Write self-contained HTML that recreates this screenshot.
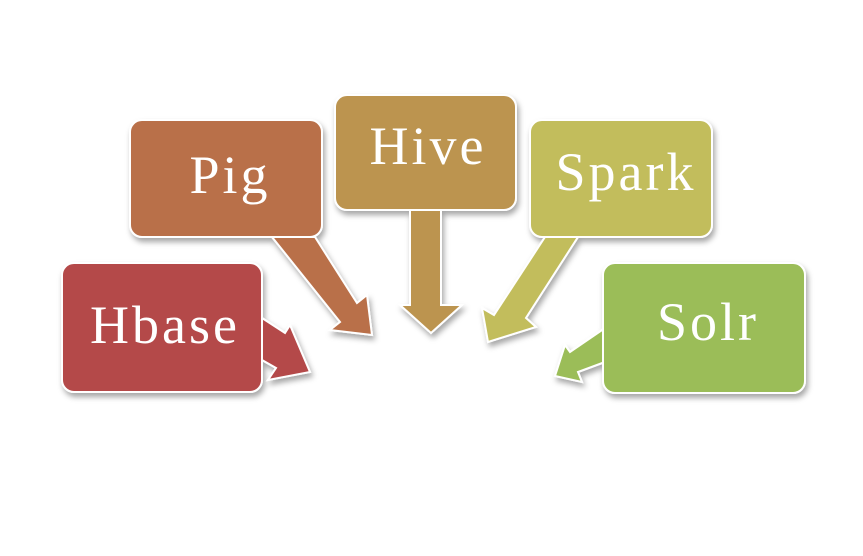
<!DOCTYPE html>
<html><head><style>body{margin:0;background:#fff}</style></head><body>
<svg width="863" height="551" xmlns="http://www.w3.org/2000/svg">
<defs>
<filter id="s" x="-20%" y="-20%" width="140%" height="150%"><feDropShadow dx="2" dy="4" stdDeviation="3" flood-opacity="0.35"/></filter>
</defs>
<g stroke="#fff" stroke-width="2" filter="url(#s)">
<polygon points="272,237 315,237 357,303 367,295 372,335 330,330 340,322" fill="#b96f48"/>
<polygon points="410,210 441,210 441,305 462,305 431,333 400,305 410,305" fill="#bc9450"/>
<polygon points="545,237 578,237 526,318 536,327 488,342 482,308 494,315" fill="#c2bd5c"/>
<polygon points="262,318 285,333 290,325 310,372 268,380 276,368 262,360" fill="#b44a48"/>
<polygon points="605,328 605,362 578,372 582,382 555,376 565,345 570,352" fill="#9bbd58"/>
<rect x="62" y="263" width="200" height="129" rx="12" fill="#b44a48"/>
<rect x="130" y="120" width="192" height="117" rx="12" fill="#b96f48"/>
<rect x="335" y="95" width="181" height="115" rx="12" fill="#bc9450"/>
<rect x="530" y="120" width="182" height="117" rx="12" fill="#c2bd5c"/>
<rect x="603" y="263" width="202" height="130" rx="12" fill="#9bbd58"/>
</g>
<g font-family="Liberation Serif, serif" font-size="54" fill="#fff" text-anchor="middle" letter-spacing="3">
<text x="165" y="343">Hbase</text>
<text x="230" y="193">Pig</text>
<text x="428" y="164">Hive</text>
<text x="626" y="190">Spark</text>
<text x="708" y="340">Solr</text>
</g>
</svg>
</body></html>
